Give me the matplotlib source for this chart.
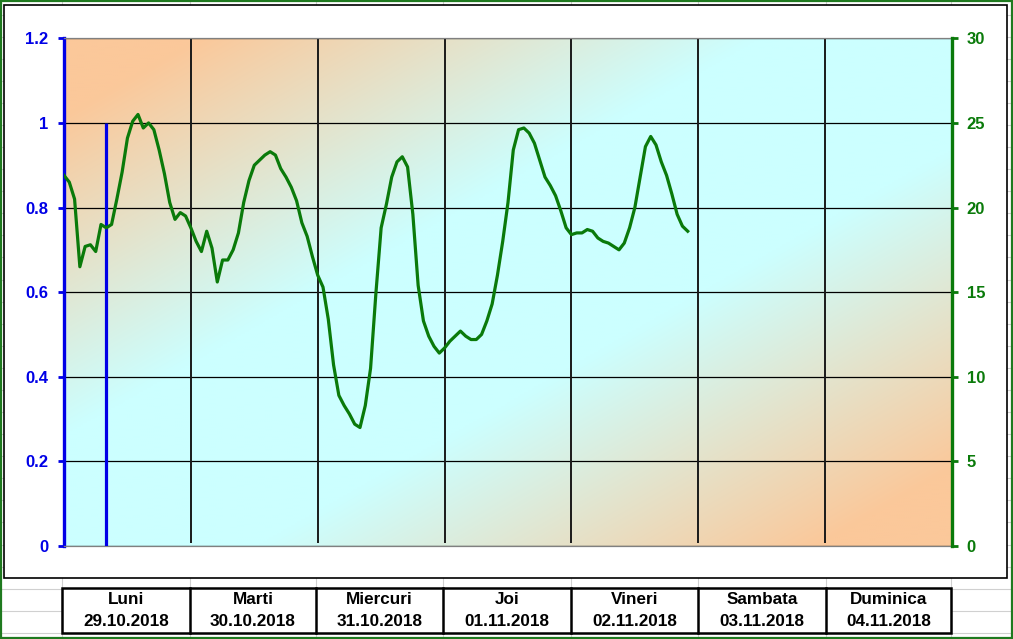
import numpy as np
import matplotlib
matplotlib.use('Agg')
import matplotlib.pyplot as plt
from matplotlib.patches import Rectangle

plt.rcParams['font.family'] = ['Liberation Sans', 'DejaVu Sans']

# ---------------- data ----------------
day_names = ['Luni', 'Marti', 'Miercuri', 'Joi', 'Vineri', 'Sambata', 'Duminica']
day_dates = ['29.10.2018', '30.10.2018', '31.10.2018', '01.11.2018',
             '02.11.2018', '03.11.2018', '04.11.2018']

# hourly temperature (°C) starting Monday 00:00
temperature = [
    21.9, 21.5, 20.5, 16.5, 17.7, 17.8, 17.4, 19.0, 18.8, 19.0, 20.5, 22.1,
    24.1, 25.1, 25.5, 24.7, 25.0, 24.6, 23.4, 22.0, 20.3, 19.3, 19.7, 19.5,
    18.8, 18.0, 17.4, 18.6, 17.6, 15.6, 16.9, 16.9, 17.5, 18.5, 20.3, 21.6,
    22.5, 22.8, 23.1, 23.3, 23.1, 22.3, 21.8, 21.2, 20.4, 19.1, 18.3, 17.1,
    16.0, 15.3, 13.4, 10.7, 8.9, 8.3, 7.8, 7.2, 7.0, 8.3, 10.5, 14.9,
    18.8, 20.2, 21.8, 22.7, 23.0, 22.4, 19.6, 15.4, 13.3, 12.4, 11.8, 11.4,
    11.7, 12.1, 12.4, 12.7, 12.4, 12.2, 12.2, 12.5, 13.3, 14.3, 16.0, 18.0,
    20.3, 23.4, 24.6, 24.7, 24.4, 23.8, 22.8, 21.8, 21.3, 20.7, 19.8, 18.8,
    18.4, 18.5, 18.5, 18.7, 18.6, 18.2, 18.0, 17.9, 17.7, 17.5, 17.9, 18.8,
    20.0, 21.8, 23.6, 24.2, 23.7, 22.7, 21.9, 20.8, 19.6, 18.9, 18.6,
]
hours = np.arange(len(temperature))

marker_hour = 8          # current-time marker
marker_level = 1.0       # on left axis

left_ticks = [0, 0.2, 0.4, 0.6, 0.8, 1.0, 1.2]
left_labels = ['0', '0.2', '0.4', '0.6', '0.8', '1', '1.2']
right_ticks = [0, 5, 10, 15, 20, 25, 30]
right_labels = ['0', '5', '10', '15', '20', '25', '30']
day_bounds = [24 * i for i in range(8)]

# ---------------- style ----------------
BLUE = '#0000E6'
GREEN = '#0A7A0A'
ORANGE = np.array([251, 200, 154]) / 255.0
CYAN = np.array([204, 255, 255]) / 255.0

W, H = 1013, 639
fig = plt.figure(figsize=(W / 100, H / 100), dpi=100)

# background spreadsheet
bg = fig.add_axes([0, 0, 1, 1])
bg.set_xlim(0, W)
bg.set_ylim(H, 0)
bg.axis('off')
sheet_cols = [62, 190, 316, 443, 571, 698, 826, 951]
for k in range(30):
    y = 14.6 + 22.08 * k
    bg.plot([0, W], [y, y], color='#d0d0d0', lw=0.8, zorder=1)
for x in sheet_cols:
    bg.plot([x, x], [0, H], color='#d0d0d0', lw=0.8, zorder=1)

# chart frame
bg.add_patch(Rectangle((4, 5), 1003, 573, facecolor='white', edgecolor='black',
                       lw=1.2, zorder=2))

# table of days
bg.add_patch(Rectangle((62, 588), 889, 45, facecolor='white', edgecolor='black',
                       lw=1.8, zorder=2))
for x in sheet_cols[1:-1]:
    bg.plot([x, x], [588, 633], color='black', lw=1.8, zorder=3)
for i, (n, d) in enumerate(zip(day_names, day_dates)):
    cx = (sheet_cols[i] + sheet_cols[i + 1]) / 2
    bg.text(cx, 600, n, ha='center', va='center', fontsize=12.3,
            fontweight='bold', color='black', zorder=4)
    bg.text(cx, 621.5, d, ha='center', va='center', fontsize=12.3,
            fontweight='bold', color='black', zorder=4)

# outer green border
bg.add_patch(Rectangle((0.8, 0.8), W - 1.6, H - 1.6, fill=False,
                       edgecolor='#1f7a1f', lw=1.6, zorder=5))

# ---------------- plot ----------------
pw, ph = 952 - 64, 546 - 38.3
ax = fig.add_axes([64 / W, (H - 546) / H, pw / W, ph / H])
ax.set_xlim(0, 168)
ax.set_ylim(0, 1.2)

# diagonal gradient: orange at top-left and bottom-right, cyan along the other diagonal
A, B = np.meshgrid(np.linspace(0, 1, 445), np.linspace(0, 1, 255))
t = np.abs(A + B - 1.0)
f = np.clip((t - 0.22) / 0.63, 0, 1)
img = CYAN[None, None, :] * (1 - f)[..., None] + ORANGE[None, None, :] * f[..., None]
ax.imshow(img, extent=[0, 168, 0, 1.2], origin='upper', aspect='auto',
          zorder=0, interpolation='bilinear')

ax.set_yticks(left_ticks)
ax.set_yticklabels(left_labels, fontweight='bold', fontsize=12)
ax.set_xticks([])
ax.grid(axis='y', color='black', lw=0.9)
ax.vlines(day_bounds[1:-1], 0.007, 1.2, color='#1a1a1a', lw=1.4, zorder=1.6)
ax.vlines(marker_hour, 0, marker_level, color=BLUE, lw=2.3, zorder=3)

ax.tick_params(axis='y', direction='out', length=4.5, width=2, color=BLUE,
               labelcolor=BLUE, pad=7)
ax.spines['left'].set_color(BLUE)
ax.spines['left'].set_linewidth(2.4)
ax.spines['right'].set_visible(False)
for s_ in ('top', 'bottom'):
    ax.spines[s_].set_color('#808080')
    ax.spines[s_].set_linewidth(0.9)

ax2 = ax.twinx()
ax2.set_ylim(0, 30)
ax2.plot(hours, temperature, color=GREEN, lw=2.3, zorder=4,
         solid_joinstyle='round')
ax2.set_yticks(right_ticks)
ax2.set_yticklabels(right_labels, fontweight='bold', fontsize=12)
ax2.tick_params(axis='y', direction='out', length=4.5, width=2, color=GREEN,
                labelcolor=GREEN, pad=6)
ax2.spines['right'].set_color(GREEN)
ax2.spines['right'].set_linewidth(2.4)
for s_ in ('top', 'bottom', 'left'):
    ax2.spines[s_].set_visible(False)
ax2.set_xticks([])

fig.savefig('out.png', dpi=100)
